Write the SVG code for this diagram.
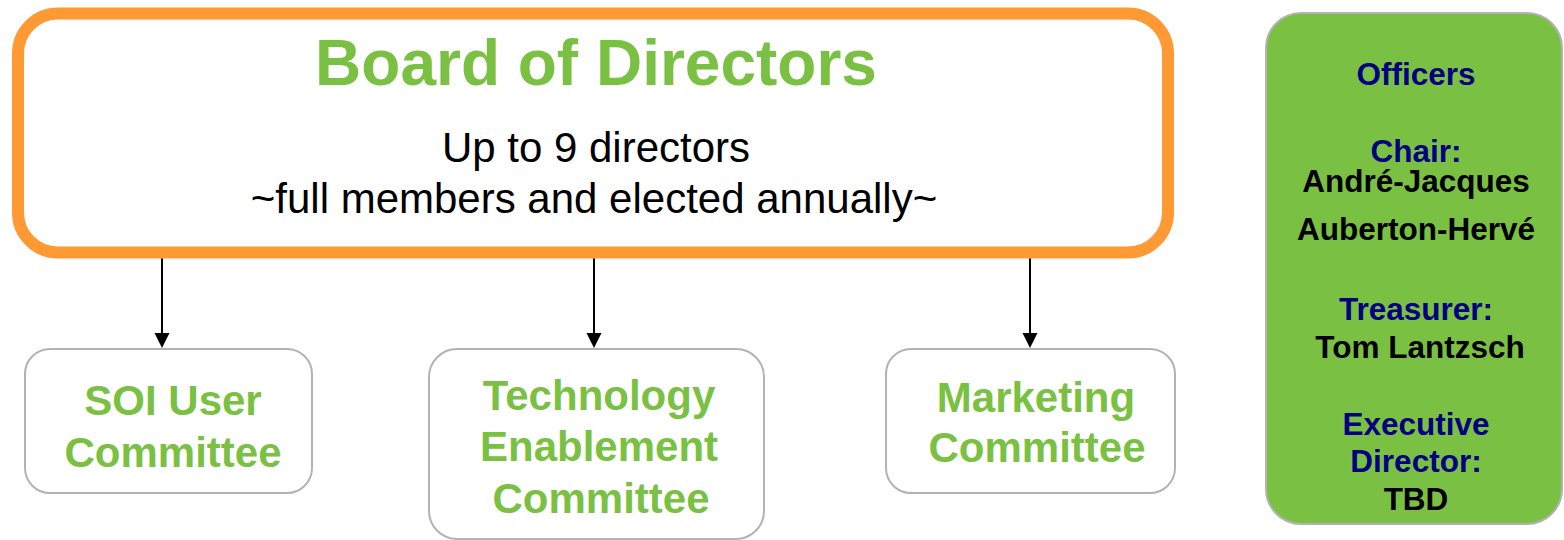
<svg xmlns="http://www.w3.org/2000/svg" width="1564" height="540" viewBox="0 0 1564 540">
<style>
.t{font-family:"Liberation Sans",Arial,sans-serif;text-anchor:middle}
.g{fill:#7AC143;font-weight:bold}
.sub{fill:#000;font-size:42px}
.com{fill:#fff;stroke:#B3B3B3;stroke-width:2}
.cl{font-size:42px}
.nv{fill:#000080;font-weight:bold;font-size:31.5px}
.bk{fill:#000;font-weight:bold;font-size:31.5px}
.conn{stroke:#000;stroke-width:2;fill:none}
</style>
<rect width="1564" height="540" fill="#fff"/>
<g id="connectors">
<line class="conn" x1="162" y1="258" x2="162" y2="333"/>
<path d="M154.5,333 L169.5,333 L162,348 z" fill="#000"/>
<line class="conn" x1="594" y1="258" x2="594" y2="333"/>
<path d="M586.5,333 L601.5,333 L594,348 z" fill="#000"/>
<line class="conn" x1="1030" y1="258" x2="1030" y2="333"/>
<path d="M1022.5,333 L1037.5,333 L1030,348 z" fill="#000"/>
</g>
<g id="board">
<rect x="18" y="13.5" width="1150" height="239" rx="40" fill="#fff" stroke="#FF9933" stroke-width="12"/>
<text class="t g" x="596" y="85" font-size="64">Board of Directors</text>
<text class="t sub" x="596" y="162">Up to 9 directors</text>
<text class="t sub" x="594" y="213">~full members and elected annually~</text>
</g>
<g id="soi">
<rect class="com" x="25" y="349" width="287" height="144" rx="25"/>
<text class="t g cl" x="173" y="415">SOI User</text>
<text class="t g cl" x="173" y="467">Committee</text>
</g>
<g id="tech">
<rect class="com" x="429" y="349" width="335" height="190" rx="28"/>
<text class="t g cl" x="599" y="410">Technology</text>
<text class="t g cl" x="599" y="461">Enablement</text>
<text class="t g cl" x="601" y="513">Committee</text>
</g>
<g id="marketing">
<rect class="com" x="886" y="349" width="289" height="144" rx="25"/>
<text class="t g cl" x="1036" y="412">Marketing</text>
<text class="t g cl" x="1037" y="462">Committee</text>
</g>
<g id="officers">
<rect x="1266" y="13" width="296" height="511" rx="35" fill="#7AC143" stroke="#B3B3B3" stroke-width="2"/>
<text class="t nv" x="1416" y="85">Officers</text>
<text class="t nv" x="1416" y="162">Chair:</text>
<text class="t bk" x="1416" y="192">André-Jacques</text>
<text class="t bk" x="1416" y="240">Auberton-Hervé</text>
<text class="t nv" x="1416" y="320">Treasurer:</text>
<text class="t bk" x="1420" y="358">Tom Lantzsch</text>
<text class="t nv" x="1416" y="435">Executive</text>
<text class="t nv" x="1416" y="472">Director:</text>
<text class="t bk" x="1416" y="510">TBD</text>
</g>
</svg>
